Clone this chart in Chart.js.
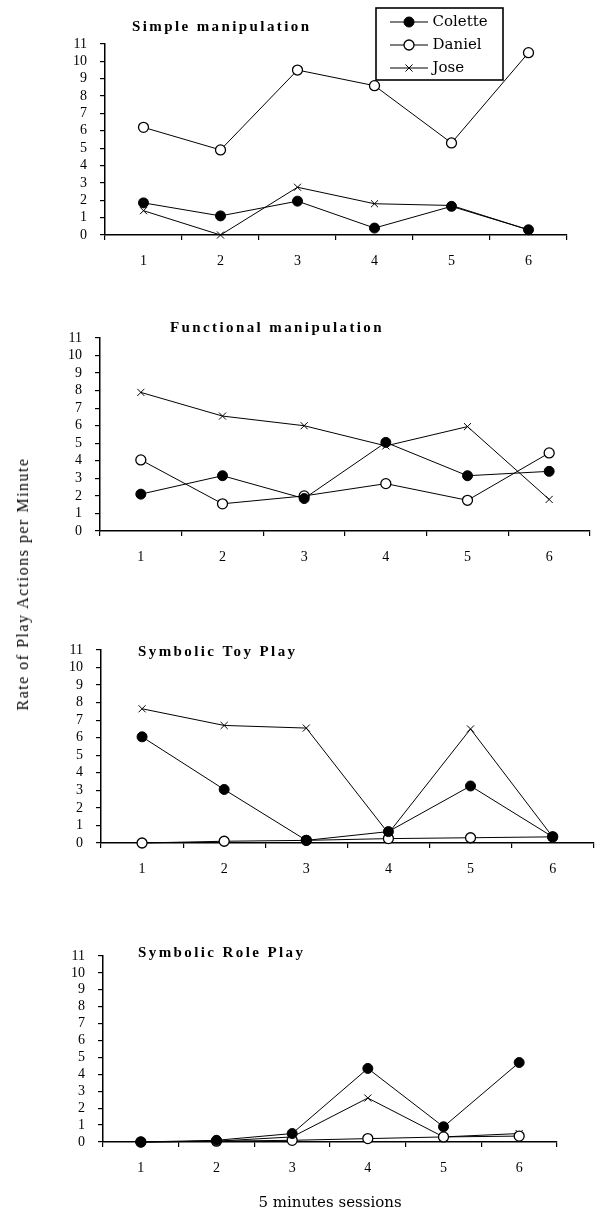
<!DOCTYPE html>
<html>
<head>
<meta charset="utf-8">
<title>Rate of play actions</title>
<script src="https://cdn.jsdelivr.net/npm/chart.js@4.4.1/dist/chart.umd.min.js"></script>
<style>
body { margin:0; background:#fff; }
#page { position:relative; width:600px; height:1217px; overflow:hidden; background:#fff; }
#page canvas { position:absolute; left:0; }
#ytitle { position:absolute; left:23px; top:584px; transform:translate(-50%,-50%) rotate(-90deg);
  white-space:nowrap; font:16px "Liberation Serif", serif; letter-spacing:1.5px; color:#000; }
</style>
</head>
<body>
<div id="page">
<canvas id="c1" width="600" height="300" style="top:0px"></canvas>
<canvas id="c2" width="600" height="300" style="top:300px"></canvas>
<canvas id="c3" width="600" height="320" style="top:600px"></canvas>
<canvas id="c4" width="600" height="297" style="top:920px"></canvas>
<div id="ytitle">Rate of Play Actions per Minute</div>
</div>
<script>
// data
var sessions = ['1', '2', '3', '4', '5', '6'];
var children = ['Colette', 'Daniel', 'Jose'];
var panelTitles = ['Simple manipulation', 'Functional manipulation', 'Symbolic Toy Play', 'Symbolic Role Play'];
var xAxisTitle = '5 minutes sessions';
var yMin = 0, yMax = 11, yStep = 1;

var coletteSimple = [1.85, 1.1, 1.95, 0.4, 1.65, 0.3];
var danielSimple  = [6.2, 4.9, 9.5, 8.6, 5.3, 10.5];
var joseSimple    = [1.4, 0, 2.75, 1.8, 1.7, 0.3];

var coletteFunctional = [2.1, 3.15, 1.85, 5.05, 3.15, 3.4];
var danielFunctional  = [4.05, 1.55, 2.0, 2.7, 1.75, 4.45];
var joseFunctional    = [7.9, 6.55, 6.0, 4.85, 5.95, 1.8];

var coletteToy = [6.05, 3.05, 0.15, 0.65, 3.25, 0.35];
var danielToy  = [0, 0.1, 0.15, 0.25, 0.3, 0.35];
var joseToy    = [7.65, 6.7, 6.55, 0.55, 6.5, 0.35];

var coletteRole = [0, 0.1, 0.5, 4.35, 0.9, 4.7];
var danielRole  = [0, 0.05, 0.1, 0.2, 0.3, 0.35];
var joseRole    = [0, 0.05, 0.3, 2.6, 0.3, 0.5];

Chart.defaults.font.family = '"Liberation Serif", "Times New Roman", serif';
Chart.defaults.color = '#000';
Chart.defaults.animation = false;

// marker look of each child
var looks = [
  {pointStyle: 'circle', bg: '#000', border: '#000', bw: 1},
  {pointStyle: 'circle', bg: '#fff', border: '#000', bw: 1.3},
  {pointStyle: 'crossRot', bg: '#000', border: '#000', bw: 1}
];

// little line+marker pictures for the legend
function legendIcon(look) {
  var c = document.createElement('canvas');
  c.width = 38; c.height = 14;
  var g = c.getContext('2d');
  g.strokeStyle = '#000';
  g.lineWidth = 1.2;
  g.beginPath(); g.moveTo(0, 7); g.lineTo(38, 7); g.stroke();
  g.fillStyle = look.bg;
  g.lineWidth = look.bw;
  Chart.helpers.drawPoint(g, {pointStyle: look.pointStyle, radius: 5, borderWidth: look.bw, rotation: 0}, 19, 7);
  return c;
}

// panel title, left aligned a bit inside the plot like the original
var panelTitle = {
  id: 'panelTitle',
  afterDraw: function(chart, args, opts) {
    if (!opts.text) return;
    var ctx = chart.ctx, a = chart.chartArea;
    ctx.save();
    ctx.font = 'bold 15px "Liberation Serif", serif';
    ctx.fillStyle = '#000';
    ctx.textBaseline = 'middle';
    ctx.textAlign = 'left';
    if ('letterSpacing' in ctx) ctx.letterSpacing = '2.4px';
    ctx.fillText(opts.text, a.left + opts.dx, a.top + opts.dy);
    ctx.restore();
  }
};

// puts the legend at the top right and draws its frame
var legendBox = {
  id: 'legendBox',
  afterLayout: function(chart, args, opts) {
    var lg = chart.legend;
    if (!lg || !opts.on) return;
    lg.left = opts.x; lg.top = opts.y;
    lg.right = opts.x + 140; lg.bottom = opts.y + 100;
    lg.width = 140; lg.height = 100;
  },
  afterDraw: function(chart, args, opts) {
    var lg = chart.legend;
    if (!lg || !opts.on || !lg.legendHitBoxes.length) return;
    var hb = lg.legendHitBoxes;
    var l = hb[0].left, t = hb[0].top, last = hb[hb.length - 1];
    var ctx = chart.ctx;
    ctx.save();
    ctx.strokeStyle = '#000';
    ctx.lineWidth = 1.6;
    ctx.strokeRect(l - 17, t - 6.5, 127, 72);
    ctx.restore();
  }
};

function makePanel(id, n, cData, dData, jData, geo) {
  var series = [cData, dData, jData];
  var datasets = [];
  for (var i = 0; i < children.length; i++) {
    datasets.push({
      label: children[i],
      data: series[i],
      borderColor: '#000',
      borderWidth: 1,
      tension: 0,
      pointStyle: looks[i].pointStyle,
      pointRadius: 5,
      pointBackgroundColor: looks[i].bg,
      pointBorderColor: looks[i].border,
      pointBorderWidth: looks[i].bw,
      clip: false
    });
  }
  var icons = looks.map(legendIcon);
  var hx = geo.hx || 40;

  return new Chart(document.getElementById(id), {
    type: 'line',
    data: {labels: sessions, datasets: datasets},
    options: {
      responsive: false,
      layout: {
        padding: {
          left: geo.L - 60,
          right: 600 - geo.R,
          top: geo.T - geo.top,
          bottom: geo.top + geo.h - geo.B - hx
        }
      },
      scales: {
        x: {
          type: 'category',
          offset: true,
          ticks: {padding: 13, font: {size: 14}, color: '#000', maxRotation: 0},
          grid: {offset: true, drawOnChartArea: false, tickLength: 5, color: '#000', lineWidth: 1.2},
          border: {color: '#000', width: 1.5},
          title: {
            display: !!geo.xTitle,
            text: xAxisTitle,
            font: {family: '"DejaVu Serif", serif', size: 15},
            color: '#000',
            padding: {top: 0, bottom: 5}
          },
          afterFit: function(s) { s.height = hx; }
        },
        y: {
          min: yMin,
          max: yMax,
          ticks: {stepSize: yStep, autoSkip: false, padding: 13, font: {size: 14}, color: '#000'},
          grid: {drawOnChartArea: false, tickLength: 5, color: '#000', lineWidth: 1.2},
          border: {color: '#000', width: 1.5},
          afterFit: function(s) { s.width = 60; }
        }
      },
      plugins: {
        legend: {
          display: !!geo.legend,
          position: 'chartArea',
          align: 'start',
          labels: {
            usePointStyle: true,
            pointStyleWidth: 32,
            padding: 8,
            color: '#000',
            font: {family: '"DejaVu Serif", serif', size: 15},
            generateLabels: function(chart) {
              return chart.data.datasets.map(function(ds, i) {
                return {text: ds.label, pointStyle: icons[i], datasetIndex: i,
                  fillStyle: '#000', strokeStyle: '#000', lineWidth: 1, hidden: false, fontColor: '#000'};
              });
            }
          }
        },
        tooltip: {enabled: false},
        panelTitle: {text: panelTitles[n], dx: geo.tdx, dy: geo.tdy},
        legendBox: {on: !!geo.legend, x: 385, y: 6.5}
      }
    },
    plugins: [panelTitle, legendBox]
  });
}

makePanel('c1', 0, coletteSimple, danielSimple, joseSimple,
  {top: 0, h: 300, L: 105, R: 567, T: 44, B: 235, tdx: 27, tdy: -17, legend: true});
makePanel('c2', 1, coletteFunctional, danielFunctional, joseFunctional,
  {top: 300, h: 300, L: 100, R: 590, T: 338, B: 531, tdx: 70, tdy: -10});
makePanel('c3', 2, coletteToy, danielToy, joseToy,
  {top: 600, h: 320, L: 101, R: 600, T: 650, B: 843, tdx: 37, tdy: 2});
makePanel('c4', 3, coletteRole, danielRole, joseRole,
  {top: 920, h: 297, L: 103, R: 557, T: 956, B: 1142, tdx: 35, tdy: -3, hx: 75, xTitle: true});
</script>
</body>
</html>
